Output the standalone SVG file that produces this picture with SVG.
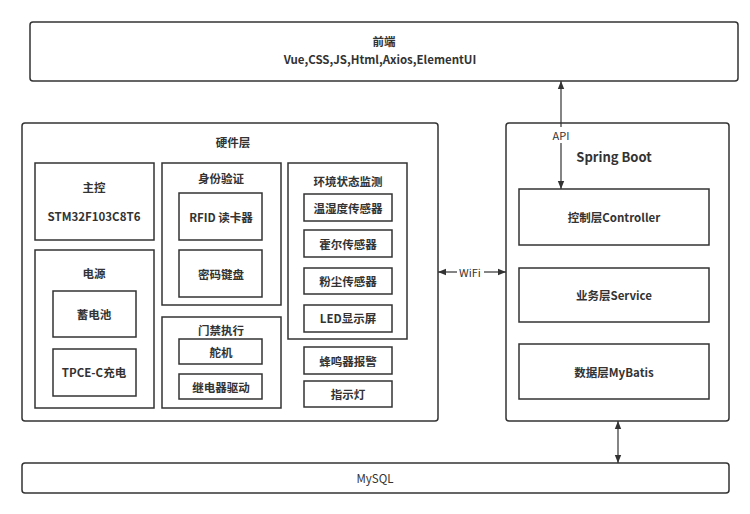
<svg xmlns="http://www.w3.org/2000/svg" width="750" height="514" viewBox="0 0 750 514">
<style>
text{font-family:"Noto Sans CJK SC","Noto Sans",sans-serif;fill:#333;text-anchor:middle;dominant-baseline:central}
.b{font-weight:bold;font-size:11.5px}
.n{font-size:11px}
.outer{fill:#fff;stroke:#333;stroke-width:1.5}
.box{fill:#fff;stroke:#333;stroke-width:1.5}
.conn{stroke:#333;stroke-width:1.2;fill:none}
</style>
<defs>
<marker id="ah" viewBox="0 0 10 10" refX="10" refY="5" markerWidth="8" markerHeight="8" markerUnits="userSpaceOnUse" orient="auto-start-reverse">
<path d="M0,1 L10,5 L0,9 Z" fill="#333"/>
</marker>
</defs>
<rect width="750" height="514" fill="#fff"/>
<g id="frontend">
<rect class="outer" x="30" y="22" width="708" height="59" rx="3"/>
<text class="b" x="384" y="41">前端</text>
<text class="b" x="380" y="59">Vue,CSS,JS,Html,Axios,ElementUI</text>
</g>
<g id="hardware">
<rect class="outer" x="22" y="123" width="416" height="298" rx="3"/>
<text class="b" x="233" y="142">硬件层</text>
</g>
<g id="mcu">
<rect class="box" x="35" y="163" width="119" height="77"/>
<text class="b" x="94" y="187">主控</text>
<text class="b" x="94" y="216">STM32F103C8T6</text>
</g>
<g id="power">
<rect class="box" x="35" y="250" width="119" height="158"/>
<text class="b" x="94" y="273">电源</text>
</g>
<g id="battery">
<rect class="box" x="53" y="291" width="83" height="46"/>
<text class="b" x="94" y="314">蓄电池</text>
</g>
<g id="charge">
<rect class="box" x="53" y="349" width="83" height="47"/>
<text class="b" x="94" y="372">TPCE-C充电</text>
</g>
<g id="auth">
<rect class="box" x="162" y="163" width="119" height="142"/>
<text class="b" x="221" y="178">身份验证</text>
</g>
<g id="rfid">
<rect class="box" x="179" y="193" width="83" height="47"/>
<text class="b" x="221" y="217">RFID 读卡器</text>
</g>
<g id="keypad">
<rect class="box" x="179" y="250" width="83" height="47"/>
<text class="b" x="221" y="274">密码键盘</text>
</g>
<g id="door">
<rect class="box" x="162" y="317" width="119" height="91"/>
<text class="b" x="221" y="330">门禁执行</text>
</g>
<g id="servo">
<rect class="box" x="179" y="339" width="83" height="25"/>
<text class="b" x="221" y="352">舵机</text>
</g>
<g id="relay">
<rect class="box" x="179" y="374" width="83" height="25"/>
<text class="b" x="221" y="387">继电器驱动</text>
</g>
<g id="env">
<rect class="box" x="288" y="163" width="119" height="176"/>
<text class="b" x="348" y="181">环境状态监测</text>
</g>
<g id="temp">
<rect class="box" x="304" y="194" width="88" height="27"/>
<text class="b" x="348" y="208">温湿度传感器</text>
</g>
<g id="hall">
<rect class="box" x="304" y="230" width="88" height="27"/>
<text class="b" x="348" y="244">霍尔传感器</text>
</g>
<g id="dust">
<rect class="box" x="304" y="268" width="88" height="26"/>
<text class="b" x="348" y="281">粉尘传感器</text>
</g>
<g id="led">
<rect class="box" x="304" y="305" width="88" height="27"/>
<text class="b" x="348" y="318">LED显示屏</text>
</g>
<g id="buzzer">
<rect class="box" x="304" y="347" width="88" height="27"/>
<text class="b" x="348" y="361">蜂鸣器报警</text>
</g>
<g id="indicator">
<rect class="box" x="304" y="381" width="88" height="26"/>
<text class="b" x="348" y="394">指示灯</text>
</g>
<g id="springboot">
<rect class="outer" x="506" y="123" width="223" height="298" rx="3"/>
<text class="b" x="614" y="156" style="font-size:13px">Spring Boot</text>
</g>
<g id="controller">
<rect class="box" x="519" y="189" width="190" height="56"/>
<text class="b" x="614" y="217">控制层Controller</text>
</g>
<g id="service">
<rect class="box" x="519" y="268" width="190" height="54"/>
<text class="b" x="614" y="295">业务层Service</text>
</g>
<g id="mybatis">
<rect class="box" x="519" y="344" width="190" height="55"/>
<text class="b" x="614" y="372">数据层MyBatis</text>
</g>
<g id="mysql">
<rect class="outer" x="22" y="463" width="707" height="30" rx="3"/>
<text class="n" x="375" y="478" style="font-size:11.5px">MySQL</text>
</g>
<g id="connectors">
<line class="conn" x1="561" y1="81" x2="561" y2="127" marker-start="url(#ah)"/>
<line class="conn" x1="561" y1="143" x2="561" y2="189" marker-end="url(#ah)"/>
<text class="n" x="561" y="135">API</text>
<line class="conn" x1="438" y1="272" x2="457" y2="272" marker-start="url(#ah)"/>
<line class="conn" x1="484" y1="272" x2="506" y2="272" marker-end="url(#ah)"/>
<text class="n" x="470" y="272">WiFi</text>
<line class="conn" x1="618" y1="421" x2="618" y2="463" marker-start="url(#ah)" marker-end="url(#ah)"/>
</g>
</svg>
